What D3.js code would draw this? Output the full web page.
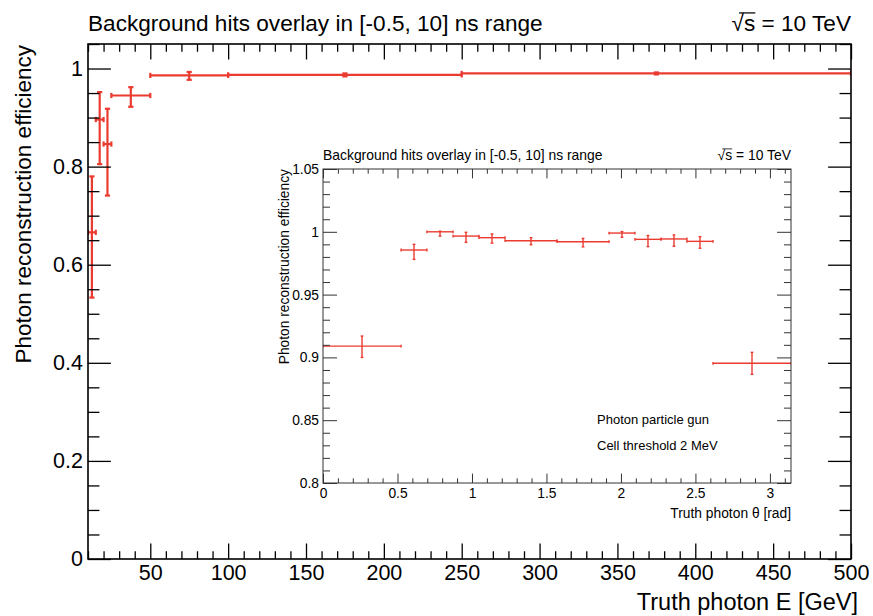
<!DOCTYPE html>
<html lang="en">
<head>
<meta charset="UTF-8" />
<title>Photon reconstruction efficiency</title>
<script src="https://d3js.org/d3.v7.min.js"></script>
<style>
  body { margin: 0; background: #fff; font-family: "Liberation Sans", Arial, sans-serif; }
  svg { display: block; }
  text { fill: #000; }
</style>
</head>
<body>
<svg width="873" height="616"></svg>
<script>
  // main plot: efficiency vs truth photon energy (GeV bins)
  const eLow  = [0, 10, 15, 20, 25, 50, 100, 250];
  const eHigh = [10, 15, 20, 25, 50, 100, 250, 500];
  const effE  = [0, 0.666, 0.896, 0.846, 0.945, 0.986, 0.987, 0.990];
  const effEUp = [0, 0.114, 0.056, 0.072, 0.017, 0.007, 0.003, 0.002];
  const effEDn = [0, 0.133, 0.091, 0.105, 0.023, 0.009, 0.003, 0.002];

  // inset: efficiency vs truth photon theta (rad bins)
  const thLow  = [0, 0.524, 0.698, 0.873, 1.047, 1.222, 1.571, 1.920, 2.094, 2.269, 2.443, 2.618];
  const thHigh = [0.524, 0.698, 0.873, 1.047, 1.222, 1.571, 1.920, 2.094, 2.269, 2.443, 2.618, 3.1416];
  const effT   = [0.909, 0.9855, 1.000, 0.9966, 0.9953, 0.9929, 0.9921, 0.9990, 0.9940, 0.9943, 0.9924, 0.8953];
  const effTUp = [0.008, 0.0045, 0.0005, 0.003, 0.003, 0.0024, 0.0026, 0.0012, 0.003, 0.0032, 0.0037, 0.0087];
  const effTDn = [0.009, 0.0075, 0.0034, 0.005, 0.0043, 0.0032, 0.0041, 0.0034, 0.0058, 0.0058, 0.0055, 0.0088];

  const mainXTicks = [50, 100, 150, 200, 250, 300, 350, 400, 450, 500];
  const mainYTicks = [0, 0.2, 0.4, 0.6, 0.8, 1];
  const insetXTicks = [0, 0.5, 1, 1.5, 2, 2.5, 3];
  const insetYTicks = [0.8, 0.85, 0.9, 0.95, 1, 1.05];

  const titleText = "Background hits overlay in [-0.5, 10] ns range";
  const red = "#eb3b30";
  const fnt = "'Liberation Sans', Arial, sans-serif";

  const svg = d3.select("svg");

  const x = d3.scaleLinear().domain([10, 500]).range([88, 851]);
  const y = d3.scaleLinear().domain([0, 1.05]).range([559, 44]);
  const xi = d3.scaleLinear().domain([0, Math.PI]).range([323, 791]);
  const yi = d3.scaleLinear().domain([0.8, 1.05]).range([483, 169]);

  const fmt = d => String(+d.toFixed(2));
  const range = (a, b, s) => d3.range(a, b + s / 2, s).map(v => +v.toFixed(3));

  function drawAxes(g, xs, ys, o) {
    const [x0, x1] = xs.range(), [y0, y1] = ys.range();
    const minorX = range(o.xMin0, o.xMin1, o.xMinStep).filter(v => !o.xMajor.includes(v));
    const minorY = range(o.yMin0, o.yMin1, o.yMinStep).filter(v => !o.yMajor.some(m => Math.abs(m - v) < 1e-6));

    const axes = [
      [d3.axisBottom(xs).tickValues(o.xMajor).tickSize(-o.xTick).tickPadding(o.xPad).tickFormat(fmt), `translate(0,${y0})`, true],
      [d3.axisBottom(xs).tickValues(minorX).tickSize(-o.xTick / 2).tickFormat(""), `translate(0,${y0})`],
      [d3.axisTop(xs).tickValues(o.xMajor).tickSize(-o.xTick).tickFormat(""), `translate(0,${y1})`],
      [d3.axisTop(xs).tickValues(minorX).tickSize(-o.xTick / 2).tickFormat(""), `translate(0,${y1})`],
      [d3.axisLeft(ys).tickValues(o.yMajor).tickSize(-o.yTick).tickPadding(o.yPad).tickFormat(fmt), `translate(${x0},0)`, true],
      [d3.axisLeft(ys).tickValues(minorY).tickSize(-o.yTick / 2).tickFormat(""), `translate(${x0},0)`],
      [d3.axisRight(ys).tickValues(o.yMajor).tickSize(-o.yTick).tickFormat(""), `translate(${x1},0)`],
      [d3.axisRight(ys).tickValues(minorY).tickSize(-o.yTick / 2).tickFormat(""), `translate(${x1},0)`]
    ];
    axes.forEach(([ax, tr, lab]) => {
      const a = g.append("g").attr("transform", tr).call(ax.tickSizeOuter(0));
      a.select(".domain").remove();
      a.selectAll("line").attr("stroke", o.color).attr("stroke-width", o.tickW);
      if (lab) a.selectAll("text").attr("font-family", fnt).attr("font-size", o.labSize).attr("fill", "#000");
    });

    g.append("rect")
      .attr("x", x0).attr("y", y1)
      .attr("width", x1 - x0).attr("height", y0 - y1)
      .attr("fill", "none").attr("stroke", o.color).attr("stroke-width", o.frameW);
  }

  function drawErrors(g, xs, ys, lo, hi, val, up, dn, lw, cap, clipId) {
    const eg = g.append("g").attr("clip-path", `url(#${clipId})`)
      .attr("stroke", red).attr("stroke-width", lw).attr("fill", "none");
    val.forEach((v, i) => {
      const cx = xs((lo[i] + hi[i]) / 2), cy = ys(v);
      const xa = xs(lo[i]), xb = xs(hi[i]);
      const ya = ys(v + up[i]), yb = ys(v - dn[i]);
      eg.append("line").attr("x1", xa).attr("x2", xb).attr("y1", cy).attr("y2", cy);
      eg.append("line").attr("x1", cx).attr("x2", cx).attr("y1", ya).attr("y2", yb);
      [xa, xb].forEach(px => eg.append("line").attr("x1", px).attr("x2", px).attr("y1", cy - cap).attr("y2", cy + cap));
      [ya, yb].forEach(py => eg.append("line").attr("x1", cx - cap).attr("x2", cx + cap).attr("y1", py).attr("y2", py));
    });
  }

  function addClip(id, xs, ys) {
    const [x0, x1] = xs.range(), [y0, y1] = ys.range();
    svg.append("clipPath").attr("id", id).append("rect")
      .attr("x", x0).attr("y", y1).attr("width", x1 - x0).attr("height", y0 - y1);
  }

  function sqrtS(xr, yb, size) {
    const t = svg.append("text")
      .attr("x", xr).attr("y", yb)
      .attr("text-anchor", "end")
      .attr("font-family", fnt).attr("font-size", size)
      .text("\u221As = 10 TeV");
    const n = t.node();
    const s0 = n.getStartPositionOfChar(0).x + size * 0.33;
    const s1 = n.getEndPositionOfChar(1).x;
    svg.append("line")
      .attr("x1", s0).attr("x2", s1)
      .attr("y1", yb - size * 0.80).attr("y2", yb - size * 0.80)
      .attr("stroke", "#000").attr("stroke-width", size * 0.055);
  }

  function label(txt, xp, yp, size, anchor, rot) {
    const t = svg.append("text")
      .attr("font-family", fnt).attr("font-size", size)
      .attr("text-anchor", anchor || "start")
      .text(txt);
    if (rot) t.attr("transform", `translate(${xp},${yp}) rotate(-90)`);
    else t.attr("x", xp).attr("y", yp);
    return t;
  }

  // ---- main plot ----
  addClip("clipMain", x, y);
  drawErrors(svg, x, y, eLow, eHigh, effE, effEUp, effEDn, 2.2, 2.6, "clipMain");
  drawAxes(svg.append("g"), x, y, {
    xMajor: mainXTicks, xMin0: 10, xMin1: 500, xMinStep: 10,
    yMajor: mainYTicks, yMin0: 0, yMin1: 1.05, yMinStep: 0.05,
    xTick: 15.5, yTick: 22.9, xPad: 6, yPad: 5,
    labSize: 21.5, color: "#000", tickW: 1.3, frameW: 1.6
  });

  label(titleText, 88, 31, 22.6);
  sqrtS(851, 31, 22.6);
  label("Photon reconstruction efficiency", 31, 45, 22.5, "end", true);
  label("Truth photon E [GeV]", 858, 610, 23.5, "end");

  // ---- inset ----
  svg.append("rect").attr("x", 323).attr("y", 169).attr("width", 468).attr("height", 314).attr("fill", "#fff");
  addClip("clipInset", xi, yi);
  drawErrors(svg, xi, yi, thLow, thHigh, effT, effTUp, effTDn, 1.4, 1.4, "clipInset");
  drawAxes(svg.append("g"), xi, yi, {
    xMajor: insetXTicks, xMin0: 0, xMin1: 3.1, xMinStep: 0.1,
    yMajor: insetYTicks, yMin0: 0.8, yMin1: 1.05, yMinStep: 0.01,
    xTick: 9.4, yTick: 14, xPad: 5, yPad: 4,
    labSize: 13.8, color: "#333", tickW: 1, frameW: 1
  });

  label(titleText, 323, 160, 13.9);
  sqrtS(791, 160, 13.9);
  label("Photon reconstruction efficiency", 289, 169, 13.8, "end", true);
  label("Truth photon \u03B8 [rad]", 791, 518, 13.8, "end");
  label("Photon particle gun", 597, 424, 13);
  label("Cell threshold 2 MeV", 597, 450, 13);
</script>
</body>
</html>
